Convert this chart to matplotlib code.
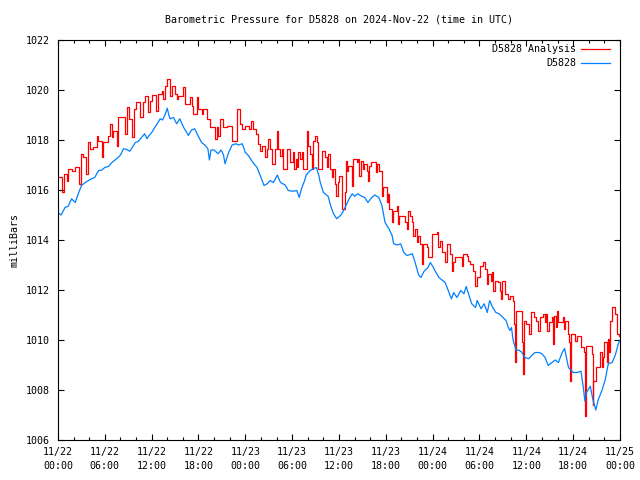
#!/usr/bin/env python

from datetime import datetime, timedelta

import matplotlib as mpl
mpl.use('Agg')
mpl.rcParams['font.family'] = 'DejaVu Sans Mono'
mpl.rcParams['font.size'] = 7.2
import matplotlib.pyplot as plt
import matplotlib.dates as mdates

title = 'Barometric Pressure for D5828 on 2024-Nov-22 (time in UTC)'
start = datetime(2024, 11, 22, 0, 0)

# hours since start / pressure (mbar)
analysis_hours = [
    0.0, 0.47, 0.81, 1.11, 1.32, 1.75, 2.18, 2.69, 2.95, 3.25, 3.55, 3.8,
    4.1, 4.53, 4.95, 5.17, 5.59, 5.81, 6.45, 6.66, 6.88, 7.09, 7.52, 7.73,
    8.58, 8.8, 9.1, 9.44, 9.78, 9.95, 10.5, 10.93, 11.15, 11.49, 11.57, 11.79,
    12.0, 12.52, 12.77, 13.29, 13.5, 13.71, 13.93, 14.35, 14.57, 15.0, 15.21,
    15.42, 16.06, 16.27, 16.91, 17.13, 17.34, 17.77, 17.98, 18.41, 18.62,
    19.05, 19.48, 20.12, 20.33, 20.54, 20.76, 21.18, 21.61, 22.25, 22.89,
    23.32, 23.52, 23.95, 24.46, 24.72, 25.02, 25.32, 25.57, 25.87, 26.09,
    26.51, 26.73, 26.94, 27.15, 27.37, 27.79, 28.01, 28.22, 28.43, 28.65,
    28.86, 29.29, 29.72, 30.14, 30.27, 30.44, 30.57, 30.78, 31.0, 31.21,
    31.42, 31.85, 32.06, 32.28, 32.49, 32.7, 32.92, 33.13, 33.35, 33.77,
    34.2, 34.41, 34.63, 34.84, 35.05, 35.27, 35.48, 35.61, 35.82, 35.99,
    36.34, 36.76, 36.85, 36.98, 37.19, 37.62, 37.83, 38.26, 38.47, 38.6,
    38.77, 39.03, 39.24, 39.54, 39.67, 39.88, 40.09, 40.69, 40.9, 41.12,
    41.46, 41.67, 42.1, 42.31, 42.44, 42.74, 42.95, 43.38, 43.51, 43.68,
    44.45, 44.66, 44.88, 45.09, 45.39, 45.52, 45.73, 45.94, 46.16, 46.37,
    46.58, 46.67, 46.8, 47.22, 47.35, 47.87, 48.51, 48.72, 48.93, 49.15,
    49.57, 49.79, 50.21, 50.43, 50.64, 50.85, 51.28, 51.71, 51.92, 52.35,
    52.56, 52.78, 53.2, 53.42, 53.63, 54.06, 54.48, 54.7, 54.91, 55.12,
    55.47, 55.64, 55.76, 55.98, 56.41, 56.62, 56.75, 56.92, 57.26, 57.69,
    57.9, 58.24, 58.41, 58.5, 58.67, 59.39, 59.48, 59.61, 59.69, 59.95,
    60.38, 60.55, 60.97, 61.23, 61.53, 61.74, 62.17, 62.38, 62.51, 62.68,
    62.94, 63.24, 63.37, 63.54, 63.79, 63.96, 64.09, 64.73, 64.86, 64.95,
    65.37, 65.5, 65.59, 65.71, 66.23, 66.44, 66.95, 67.45, 67.55, 67.7,
    68.36, 68.49, 68.6, 68.92, 69.22, 69.43, 69.64, 69.77, 69.94, 70.28,
    70.41, 70.58, 70.71, 70.92, 71.35, 71.56, 71.65, 71.86, 72.0]
analysis_mbar = [
    1016.51, 1015.91, 1016.65, 1016.38, 1016.85, 1016.78, 1016.91, 1016.25,
    1017.45, 1017.31, 1016.65, 1017.91, 1017.65, 1017.71, 1018.18, 1017.98,
    1017.31, 1017.91, 1018.18, 1018.65, 1018.11, 1018.38, 1017.78, 1018.91,
    1018.25, 1019.31, 1018.85, 1018.11, 1019.25, 1019.51, 1018.91, 1019.51,
    1019.78, 1019.45, 1019.11, 1019.58, 1019.82, 1019.18, 1019.85, 1019.98,
    1019.65, 1020.18, 1020.45, 1019.78, 1020.18, 1019.85, 1019.65, 1019.78,
    1020.11, 1019.45, 1019.71, 1019.38, 1019.05, 1019.71, 1019.25, 1019.05,
    1019.25, 1018.85, 1018.51, 1018.05, 1018.51, 1018.18, 1018.85, 1018.51,
    1018.58, 1017.98, 1019.25, 1018.65, 1018.45, 1018.58, 1018.45, 1018.78,
    1018.45, 1018.25, 1017.85, 1017.58, 1017.78, 1017.31, 1017.65, 1018.05,
    1017.65, 1017.05, 1017.65, 1018.38, 1017.65, 1017.38, 1017.65, 1016.85,
    1017.65, 1017.11, 1017.51, 1016.85, 1017.25, 1016.91, 1017.51, 1017.25,
    1017.51, 1016.85, 1018.38, 1017.78, 1017.45, 1016.85, 1017.98, 1018.18,
    1017.91, 1016.85, 1017.58, 1017.31, 1016.91, 1017.45, 1016.85, 1016.51,
    1016.85, 1016.25, 1015.78, 1016.31, 1016.58, 1015.25, 1015.91, 1017.18,
    1016.78, 1016.98, 1016.18, 1017.25, 1017.11, 1017.25, 1016.58, 1017.18,
    1016.85, 1017.05, 1016.78, 1016.38, 1016.98, 1017.11, 1016.71, 1017.05,
    1016.78, 1015.78, 1016.11, 1015.51, 1015.85, 1015.25, 1014.71, 1015.18,
    1015.38, 1014.65, 1014.98, 1014.71, 1014.45, 1015.18, 1014.98, 1014.71,
    1014.18, 1014.45, 1013.91, 1014.18, 1013.85, 1013.45, 1013.05, 1013.85,
    1013.71, 1013.31, 1014.25, 1014.31, 1013.71, 1013.98, 1013.51, 1013.11,
    1013.85, 1013.45, 1012.78, 1013.11, 1013.31, 1013.31, 1012.98, 1013.45,
    1013.38, 1013.18, 1013.05, 1012.78, 1012.18, 1012.51, 1012.98, 1013.11,
    1012.85, 1012.25, 1012.65, 1012.38, 1012.71, 1011.98, 1012.38, 1012.31,
    1011.98, 1011.65, 1012.38, 1011.85, 1011.65, 1011.78, 1011.58, 1010.65,
    1009.11, 1011.18, 1010.78, 1009.91, 1008.65, 1010.78, 1010.65, 1010.25,
    1011.11, 1010.91, 1010.78, 1010.38, 1010.91, 1011.05, 1010.71, 1011.05,
    1010.38, 1010.71, 1010.91, 1009.85, 1010.98, 1010.51, 1011.18, 1010.71,
    1010.91, 1010.45, 1010.78, 1010.25, 1009.91, 1008.38, 1010.25, 1009.98,
    1010.18, 1009.71, 1009.51, 1006.95, 1009.78, 1009.45, 1007.4, 1008.38,
    1008.91, 1008.91, 1009.51, 1008.91, 1009.31, 1009.91, 1009.11, 1010.05,
    1009.51, 1010.78, 1011.31, 1011.05, 1010.65, 1010.25, 1010.18, 1010.18]

station_hours = [
    0.0, 0.4, 0.9, 1.3, 1.75, 2.2, 2.6, 3.0, 3.5, 3.9, 4.3, 4.7, 5.2, 5.6,
    6.0, 6.5, 6.9, 7.3, 7.7, 8.0, 8.4, 8.8, 9.2, 9.5, 9.9, 10.3, 10.7, 11.1,
    11.4, 11.6, 12.0, 12.4, 13.1, 13.4, 13.7, 14.0, 14.2, 14.35, 14.8, 15.2,
    15.6, 16.1, 16.4, 16.7, 17.1, 17.5, 17.9, 18.4, 18.8, 19.2, 19.4, 19.6,
    20.0, 20.5, 20.9, 21.2, 21.4, 21.8, 22.3, 22.8, 23.1, 23.6, 24.0, 24.4,
    24.8, 25.1, 25.5, 25.9, 26.4, 26.8, 27.2, 27.6, 28.1, 28.5, 29.1, 29.5,
    30.1, 30.6, 30.9, 31.2, 31.6, 31.8, 32.3, 32.7, 33.1, 33.4, 33.6, 34.0,
    34.2, 34.6, 35.0, 35.3, 35.7, 36.2, 36.6, 37.0, 37.3, 37.7, 38.0, 38.4,
    38.9, 39.3, 39.7, 40.2, 40.6, 41.1, 41.5, 41.9, 42.4, 42.8, 43.0, 43.5,
    43.9, 44.3, 44.7, 45.4, 45.8, 46.2, 46.5, 46.9, 47.4, 47.7, 48.1, 48.3,
    48.8, 49.2, 49.6, 50.0, 50.4, 50.7, 51.1, 51.6, 52.0, 52.3, 52.6, 53.0,
    53.5, 53.7, 54.2, 54.6, 55.0, 55.3, 55.7, 56.1, 56.5, 57.0, 57.4, 57.7,
    57.9, 58.1, 58.3, 58.7, 59.0, 59.4, 59.8, 60.3, 60.7, 61.1, 61.6, 62.0,
    62.4, 62.8, 63.3, 63.7, 64.1, 64.6, 64.9, 65.4, 65.7, 66.0, 66.5, 67.0,
    67.3, 67.5, 67.7, 68.2, 68.5, 68.9, 69.2, 69.7, 70.1, 70.5, 71.0, 71.4,
    71.8, 72.0]
station_mbar = [
    1015.1, 1015.0, 1015.3, 1015.35, 1015.65, 1015.5, 1015.85, 1016.18,
    1016.3, 1016.38, 1016.45, 1016.5, 1016.78, 1016.8, 1016.9, 1016.95,
    1017.1, 1017.2, 1017.3, 1017.4, 1017.65, 1017.62, 1017.55, 1017.7,
    1017.9, 1017.95, 1018.1, 1018.25, 1018.05, 1018.15, 1018.3, 1018.5,
    1018.85, 1018.8, 1019.0, 1019.27, 1019.0, 1018.85, 1018.9, 1018.65,
    1018.85, 1018.5, 1018.35, 1018.18, 1018.4, 1018.45, 1018.2, 1017.9,
    1017.8, 1017.65, 1017.2, 1017.6, 1017.6, 1017.45, 1017.6, 1017.4,
    1017.05, 1017.45, 1017.8, 1017.85, 1017.8, 1017.85, 1017.5, 1017.38,
    1017.18, 1017.05, 1016.9, 1016.58, 1016.18, 1016.25, 1016.38, 1016.3,
    1016.6, 1016.3, 1016.2, 1015.98, 1015.95, 1015.98, 1015.7, 1016.06,
    1016.38, 1016.6, 1016.78, 1016.85, 1016.9, 1016.6, 1016.3, 1015.9,
    1015.85, 1015.75, 1015.3, 1015.05, 1014.85, 1014.98, 1015.18, 1015.45,
    1015.65, 1015.85, 1015.75, 1015.85, 1015.75, 1015.7, 1015.5, 1015.7,
    1015.8, 1015.7, 1015.38, 1014.7, 1014.45, 1014.18, 1013.85, 1013.8,
    1013.85, 1013.5, 1013.38, 1013.45, 1013.05, 1012.6, 1012.5, 1012.75,
    1012.9, 1013.1, 1012.9, 1012.77, 1012.5, 1012.4, 1012.3, 1011.98,
    1011.65, 1011.9, 1011.7, 1011.98, 1011.85, 1012.14, 1011.85, 1011.45,
    1011.3, 1011.58, 1011.25, 1011.45, 1011.1, 1011.58, 1011.3, 1011.1,
    1011.05, 1010.9, 1010.78, 1010.5, 1010.38, 1010.5, 1010.0, 1009.58,
    1009.6, 1009.52, 1009.3, 1009.25, 1009.38, 1009.5, 1009.5, 1009.45,
    1009.3, 1008.98, 1009.1, 1009.2, 1009.1, 1009.5, 1009.66, 1008.9,
    1008.8, 1008.7, 1008.7, 1008.75, 1008.1, 1007.55, 1007.9, 1008.15,
    1007.65, 1007.2, 1007.6, 1008.0, 1008.4, 1009.05, 1009.1, 1009.4,
    1009.86, 1010.0]

y_ticks = [1006, 1008, 1010, 1012, 1014, 1016, 1018, 1020, 1022]


def to_times(hours):
    return [start + timedelta(hours=h) for h in hours]


def key_entry(ax, ypos, label, color):
    ax.text(0.922, ypos, label, transform=ax.transAxes, ha='right',
            va='center')
    ax.plot([0.931, 0.982], [ypos, ypos], transform=ax.transAxes,
            color=color, lw=0.9)


def main():
    fig = plt.figure(figsize=(6.4, 4.8), dpi=100)
    ax = fig.add_axes([58 / 640., 40 / 480., 562 / 640., 400 / 480.])

    ax.plot(to_times(analysis_hours), analysis_mbar, color='#ff0000',
            lw=0.9, drawstyle='steps-post')
    ax.plot(to_times(station_hours), station_mbar, color='#0080ff', lw=0.9)

    ax.set_xlim(start, start + timedelta(hours=72))
    ax.set_ylim(y_ticks[0], y_ticks[-1])
    ax.set_yticks(y_ticks)

    ax.xaxis.set_major_locator(mdates.HourLocator(byhour=[0, 6, 12, 18]))
    ax.xaxis.set_minor_locator(mdates.HourLocator(interval=2))
    ax.xaxis.set_major_formatter(mdates.DateFormatter('%m/%d\n%H:%M'))
    for lab in ax.get_xticklabels():
        lab.set_linespacing(1.45)

    ax.tick_params(which='both', direction='in', top=True, right=True,
                   width=0.8, color='black')
    ax.tick_params(which='major', length=4.5, pad=5)
    ax.tick_params(which='minor', length=2.5)
    ax.tick_params(axis='y', which='major', pad=6)
    for sp in ax.spines.values():
        sp.set_linewidth(0.8)

    # gnuplot centres the title over the plot area
    ax.text(0.5, 1.05, title, transform=ax.transAxes, ha='center',
            va='center')
    fig.text(14 / 640., 0.5, 'milliBars', rotation=90, ha='center',
             va='center')

    key_entry(ax, 0.9775, 'D5828 Analysis', '#ff0000')
    key_entry(ax, 0.9425, 'D5828', '#0080ff')

    fig.savefig('out.png', dpi=100)


if __name__ == '__main__':
    main()
